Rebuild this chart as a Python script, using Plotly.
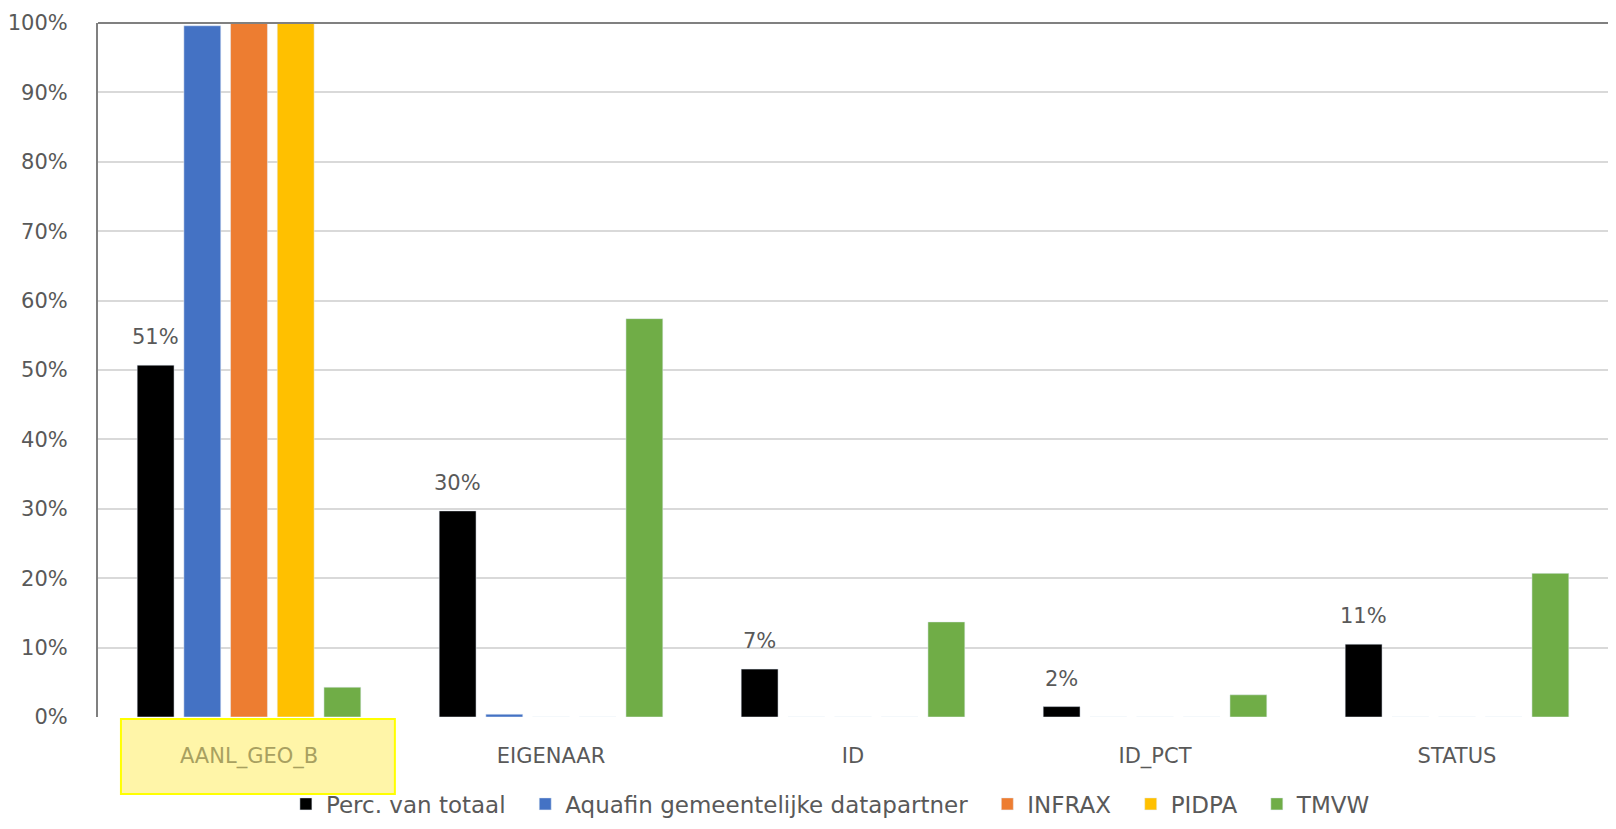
import plotly.graph_objects as go

categories = ["AANL_GEO_B", "EIGENAAR", "ID", "ID_PCT", "STATUS"]
series_names = ["Perc. van totaal", "Aquafin gemeentelijke datapartner", "INFRAX", "PIDPA", "TMVW"]
perc_totaal = [0.507, 0.297, 0.069, 0.015, 0.105]
aquafin = [0.996, 0.004, 0.0, 0.0, 0.0]
infrax = [1.0, 0.0, 0.0, 0.0, 0.0]
pidpa = [1.0, 0.0, 0.0, 0.0, 0.0]
tmvw = [0.043, 0.574, 0.137, 0.032, 0.207]
perc_labels = ["51%", "30%", "7%", "2%", "11%"]
y_ticks = [i / 10 for i in range(11)]
series_colors = ["#000000", "#4472C4", "#ED7D31", "#FFC000", "#70AD47"]

FONT = "DejaVu Sans"
GRAY = "#595959"

# page body has an 8px default margin; size the figure to fit the window without scrollbars
W, H = 1600, 813
ML, MR, MT, MB = 90, 0, 15, 104
BARGAP, BARGROUPGAP = 0.227, 0.21
N_SERIES = 5
PAD = "\u00a0" * 2

fig = go.Figure()
for name, vals, col in zip(series_names, [perc_totaal, aquafin, infrax, pidpa, tmvw], series_colors):
    fig.add_trace(go.Bar(name=name + PAD, x=categories, y=vals, marker_color=col))

# data labels above the first series' bars (shift = slot offset of series 0 in the group)
cat_px = (W - ML - MR) / len(categories)
slot_px = cat_px * (1 - BARGAP) / N_SERIES
first_offset = -(N_SERIES - 1) / 2 * slot_px
annotations = [
    dict(x=c, y=v, xref="x", yref="y", text=t, showarrow=False, xshift=first_offset,
         yshift=28, font=dict(family=FONT, size=21, color=GRAY))
    for c, v, t in zip(categories, perc_totaal, perc_labels)
]

ticktext = ['<span style="color:#A8A060">AANL_GEO_B</span>'] + categories[1:]

fig.update_layout(
    width=W, height=H,
    margin=dict(l=ML, r=MR, t=MT, b=MB),
    paper_bgcolor="white", plot_bgcolor="white",
    barmode="group", bargap=BARGAP, bargroupgap=BARGROUPGAP,
    font=dict(family=FONT, color=GRAY, size=20),
    xaxis=dict(tickmode="array", tickvals=categories, ticktext=ticktext,
               tickfont=dict(size=21, color=GRAY), ticklabelstandoff=24,
               showline=False, showgrid=False, automargin=False),
    yaxis=dict(range=[0, 1], tickvals=y_ticks, tickformat=".0%",
               tickfont=dict(size=21, color=GRAY), ticklabelstandoff=24,
               showgrid=True, gridcolor="#D9D9D9", gridwidth=1.5,
               showline=True, linecolor="#808080", linewidth=2,
               zeroline=False, automargin=False),
    legend=dict(orientation="h", x=0.49, xanchor="center",
                yref="container", y=0.021, yanchor="middle",
                bgcolor="rgba(0,0,0,0)",
                font=dict(size=23, color=GRAY, family=FONT), traceorder="normal",
                itemwidth=30),
    showlegend=True,
    annotations=annotations,
    shapes=[
        dict(type="rect", xref="x", yref="paper", x0=-0.424, x1=0.483, y0=-0.111, y1=-0.003,
             fillcolor="#FFF5A8", line=dict(color="#FFFF00", width=2), layer="below"),
        dict(type="line", xref="paper", yref="paper", x0=0, x1=1, y0=1, y1=1,
             line=dict(color="#808080", width=2)),
    ],
)

fig.write_html("out.html")
